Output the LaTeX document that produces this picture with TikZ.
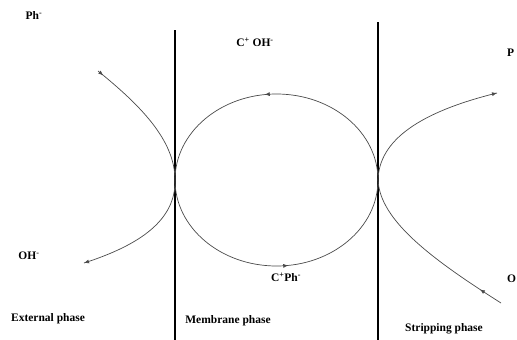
\documentclass[tikz,border=0pt]{standalone}
\usepackage{fontspec}
\setmainfont{Liberation Serif}
\usetikzlibrary{arrows.meta,decorations.markings}
\definecolor{ink}{HTML}{4A4A4A}

\begin{document}
\begin{tikzpicture}[
    x=1pt, y=-1pt,
    wall/.style={draw=black, line width=1.4pt},
    flux/.style={draw=ink, line width=0.7pt},
    lbl/.style={font=\fontsize{11.5}{13}\selectfont\bfseries, inner sep=1pt},
    tipat/.style={postaction={decorate}, decoration={markings,
        mark=at position #1 with {\arrow{Latex[length=5pt,width=4pt]}}}},
    tipback/.style={postaction={decorate}, decoration={markings,
        mark=at position #1 with {\arrowreversed{Latex[length=5pt,width=4pt]}}}},
  ]
  \useasboundingbox (0,0) rectangle (517,340);

  % phase walls
  \coordinate (wl top) at (175,30);
  \coordinate (wl bot) at (175,340);
  \coordinate (wr top) at (378,22);
  \coordinate (wr bot) at (378,340);
  \draw[wall] (wl top) -- (wl bot);
  \draw[wall] (wr top) -- (wr bot);

  % contact points and free ends of the fluxes
  \coordinate (lv) at (175,180);
  \coordinate (rv) at (378,180);
  \coordinate (l up) at (98,71);
  \coordinate (l dn) at (84,263);
  \coordinate (r up) at (497,93);
  \coordinate (r dn) at (501,303);

  % external phase: Ph- enters, OH- leaves
  \draw[flux, tipback=0.95] (lv) .. controls (175,140) and (140,105) .. (l up);
  \draw[flux, tipat=1] (lv) .. controls (176,220) and (140,245) .. (l dn);

  % membrane phase carrier cycle, drawn as two halves
  \draw[flux, tipat=0.54] (rv) arc[start angle=0, end angle=-180, x radius=101.5, y radius=86];
  \draw[flux, tipat=0.54] (lv) arc[start angle=180, end angle=0, x radius=101.5, y radius=86];

  % stripping phase
  \draw[flux, tipat=1] (rv) .. controls (379,140) and (420,112) .. (r up);
  \draw[flux, tipback=0.86] (rv) .. controls (380,220) and (430,258) .. (r dn);

  % labels
  \node[lbl] (ph in)   at (34,16)   {Ph\textsuperscript{-}};
  \node[lbl] (c oh)    at (255,42)  {C\textsuperscript{+} OH\textsuperscript{-}};
  \node[lbl] (oh out)  at (29,256)  {OH\textsuperscript{-}};
  \node[lbl] (c ph)    at (286,277) {C\textsuperscript{+}Ph\textsuperscript{-}};
  \node[lbl, anchor=west] (p cut) at (506,53)  {P};
  \node[lbl, anchor=west] (o cut) at (506,279) {O};
  \node[lbl] (ext)     at (48,319)  {External phase};
  \node[lbl] (memb)    at (228,321) {Membrane phase};
  \node[lbl] (strip)   at (444,329) {Stripping phase};
\end{tikzpicture}
\end{document}
